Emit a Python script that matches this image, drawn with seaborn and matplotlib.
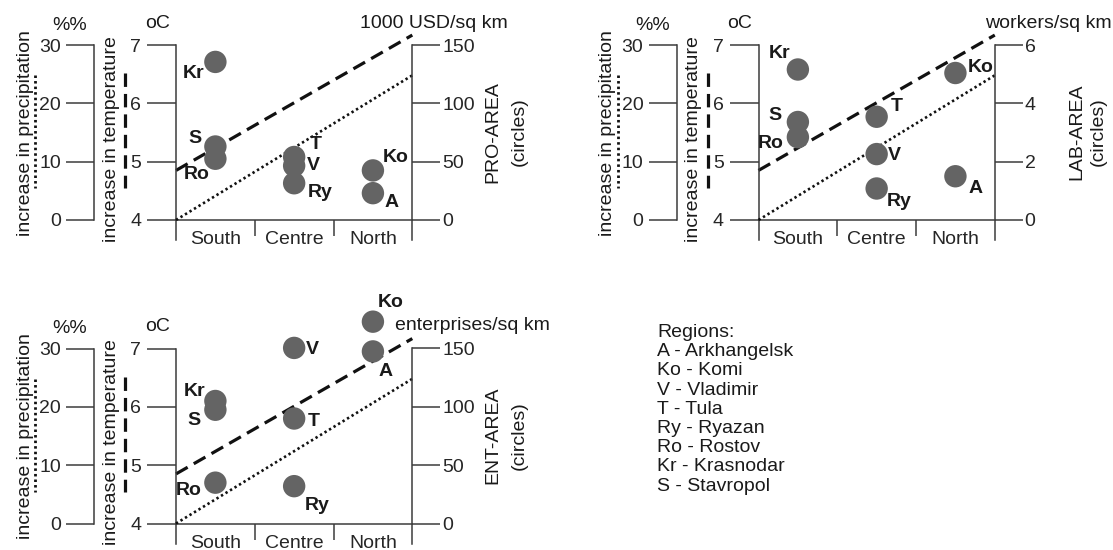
import matplotlib.pyplot as plt
import pandas as pd
import seaborn as sns
from matplotlib.lines import Line2D

sns.set_style("white")
plt.rcParams["font.family"] = ["Liberation Sans", "DejaVu Sans"]
plt.rcParams["font.size"] = 14
plt.rcParams["text.color"] = "#1a1a1a"

# ---- data -------------------------------------------------------------
regions = ["A", "Ko", "V", "T", "Ry", "Ro", "Kr", "S"]
zones = ["North", "North", "Centre", "Centre", "Centre", "South", "South", "South"]
zone_order = ["South", "Centre", "North"]
legend_names = ["Arkhangelsk", "Komi", "Vladimir", "Tula", "Ryazan",
                "Rostov", "Krasnodar", "Stavropol"]

pro_area = [23, 42.5, 46.5, 54, 31.5, 52.5, 135.5, 63]       # 1000 USD/sq km
lab_area = [1.5, 5.04, 2.26, 3.54, 1.08, 2.84, 5.16, 3.36]   # workers/sq km
ent_area = [147.5, 173, 150.5, 90, 32, 35, 105, 97.5]         # enterprises/sq km

temp_trend = [4.85, 7.17]     # oC, south edge -> north edge
precip_trend = [0.0, 24.8]    # %%

temp_ticks = [4, 5, 6, 7]
precip_ticks = [0, 10, 20, 30]
pro_ticks = [0, 50, 100, 150]
lab_ticks = [0, 2, 4, 6]
ent_ticks = [0, 50, 100, 150]

# label offsets (px, right/down) of the region letters from their circle
offs1 = {"Kr": (-22, 12), "S": (-20, -8), "Ro": (-19, 16), "T": (22, -12),
         "V": (19, 0), "Ry": (26, 9), "Ko": (23, -13), "A": (19, 9)}
offs2 = {"Kr": (-18, -16), "S": (-23, -7), "Ro": (-27, 6), "T": (20, -10),
         "V": (18, 1), "Ry": (23, 13), "Ko": (25, -6), "A": (20, 12)}
offs3 = {"Kr": (-21, -9), "S": (-21, 11), "Ro": (-27, 8), "V": (18, 2),
         "T": (20, 3), "Ry": (23, 19), "Ko": (18, -19), "A": (13, 20)}

panels = [
    dict(values=pro_area, ticks=pro_ticks, name="PRO-AREA", unit="1000 USD/sq km",
         dx=0, dy=0, offs=offs1, unit_xy=(508, 23), name_x=(493, 519)),
    dict(values=lab_area, ticks=lab_ticks, name="LAB-AREA", unit="workers/sq km",
         dx=582.5, dy=0, offs=offs2, unit_xy=(529, 23), name_x=(494.5, 516)),
    dict(values=ent_area, ticks=ent_ticks, name="ENT-AREA", unit="enterprises/sq km",
         dx=0, dy=303.5, offs=offs3, unit_xy=(550, 21.5), name_x=(493, 519)),
]

W, H = 1113, 550
fig = plt.figure(figsize=(W / 100, H / 100), dpi=100)
LINE = "#3c3c3c"
DOT = "#646464"


def box(x0, y0, x1, y1):
    return [x0 / W, 1 - y1 / H, (x1 - x0) / W, (y1 - y0) / H]


def fpos(x, y):
    return x / W, 1 - y / H


def draw_panel(p):
    dx, dy = p["dx"], p["dy"]
    top, base, low = 45 + dy, 220 + dy, 240 + dy
    ext = (low - base) / (base - top)

    def aligned(lo, hi):
        return (lo - ext * (hi - lo), hi)

    # main axis (temperature scale)
    ax = fig.add_axes(box(176 + dx, top, 412.3 + dx, low))
    ax.set_facecolor("none")
    ax.set_xlim(-0.5, 2.5)
    ax.set_ylim(aligned(temp_ticks[0], temp_ticks[-1]))
    for s in ["top", "right"]:
        ax.spines[s].set_visible(False)
    for s in ["left", "bottom"]:
        ax.spines[s].set_color(LINE)
        ax.spines[s].set_linewidth(1.1)
    ax.spines["bottom"].set_position(("data", temp_ticks[0]))
    ax.set_yticks(temp_ticks)
    ax.tick_params(axis="y", left=True, direction="out", length=21, width=1.1,
                   color=LINE, pad=4, labelsize=14)
    ax.set_xticks([0.5, 1.5])
    ax.set_xticklabels([])
    ax.set_xticks(range(len(zone_order)), minor=True)
    ax.set_xticklabels(zone_order, minor=True)
    ax.tick_params(axis="x", which="major", bottom=True, direction="out",
                   length=11.5, width=1.1, color=LINE)
    ax.tick_params(axis="x", which="minor", bottom=True, length=0, pad=8, labelsize=14)
    ax.plot(ax.get_xlim(), temp_trend, color="#111111", lw=2.3,
            ls=(0, (4.2, 2.2)), clip_on=False, dash_capstyle="butt")

    # precipitation trend on a hidden twin
    axp = ax.twinx()
    axp.set_ylim(aligned(precip_ticks[0], precip_ticks[-1]))
    axp.axis("off")
    axp.plot(ax.get_xlim(), precip_trend, color="#111111", lw=1.9,
             ls=(0, (0.9, 1.1)), clip_on=False)

    # right axis with the circles
    axr = ax.twinx()
    df = pd.DataFrame({"region": regions, "zone": zones, "area": p["values"]})
    df["pos"] = pd.Categorical(df["zone"], categories=zone_order).codes
    sns.scatterplot(data=df, x="pos", y="area", ax=axr, s=260, color=DOT,
                    edgecolor="none", legend=False, clip_on=False, zorder=5)
    axr.set_xlim(-0.5, 2.5)
    axr.set_ylim(aligned(p["ticks"][0], p["ticks"][-1]))
    axr.set_xlabel("")
    axr.set_ylabel("")
    for s in ["top", "left", "bottom"]:
        axr.spines[s].set_visible(False)
    axr.spines["right"].set_color(LINE)
    axr.spines["right"].set_linewidth(1.1)
    axr.set_yticks(p["ticks"])
    axr.tick_params(axis="y", right=True, direction="out", length=20, width=1.1,
                    color=LINE, pad=1.5, labelsize=14)
    axr.tick_params(axis="x", bottom=False, labelbottom=False)
    for r in df.itertuples():
        ox, oy = p["offs"][r.region]
        axr.annotate(r.region, (r.pos, r.area), xytext=(ox * 0.72, -oy * 0.72),
                     textcoords="offset points", ha="center", va="center",
                     fontweight="bold", fontsize=14, annotation_clip=False)

    # precipitation axis
    axq = fig.add_axes(box(94.3 + dx, top, 95.3 + dx, base))
    axq.set_facecolor("none")
    axq.set_ylim(precip_ticks[0], precip_ticks[-1])
    axq.set_xticks([])
    axq.set_yticks(precip_ticks)
    for s in ["top", "right", "bottom"]:
        axq.spines[s].set_visible(False)
    axq.spines["left"].set_color(LINE)
    axq.spines["left"].set_linewidth(1.1)
    axq.tick_params(axis="y", left=True, direction="out", length=20, width=1.1,
                    color=LINE, pad=4, labelsize=14)

    # texts
    fig.text(*fpos(69.7 + dx, 25 + dy), "%%", ha="center", va="center")
    fig.text(*fpos(157.5 + dx, 23 + dy), "oC", ha="center", va="center")
    fig.text(*fpos(25.5 + dx, 133 + dy), "increase in precipitation",
             rotation=90, ha="center", va="center")
    fig.text(*fpos(111 + dx, 139 + dy), "increase in temperature",
             rotation=90, ha="center", va="center")
    fig.add_artist(Line2D([fpos(35 + dx, 0)[0]] * 2,
                          [fpos(0, 75 + dy)[1], fpos(0, 188 + dy)[1]],
                          color="#111111", lw=2.0, ls=(0, (0.9, 1.1))))
    fig.add_artist(Line2D([fpos(125 + dx, 0)[0]] * 2,
                          [fpos(0, 73 + dy)[1], fpos(0, 188 + dy)[1]],
                          color="#111111", lw=2.3, ls=(0, (4.2, 2.2))))
    ux, uy = p["unit_xy"]
    fig.text(*fpos(ux + dx, uy + dy), p["unit"], ha="right", va="center")
    fig.text(*fpos(p["name_x"][0] + dx, 132 + dy), p["name"], rotation=90,
             ha="center", va="center")
    fig.text(*fpos(p["name_x"][1] + dx, 132 + dy), "(circles)", rotation=90,
             ha="center", va="center")


for p in panels:
    draw_panel(p)

legend_text = "Regions:\n" + "\n".join(f"{a} - {n}" for a, n in zip(regions, legend_names))
fig.text(*fpos(657.3, 324), legend_text, ha="left", va="top", linespacing=1.17)

fig.savefig("out.png", dpi=100)
